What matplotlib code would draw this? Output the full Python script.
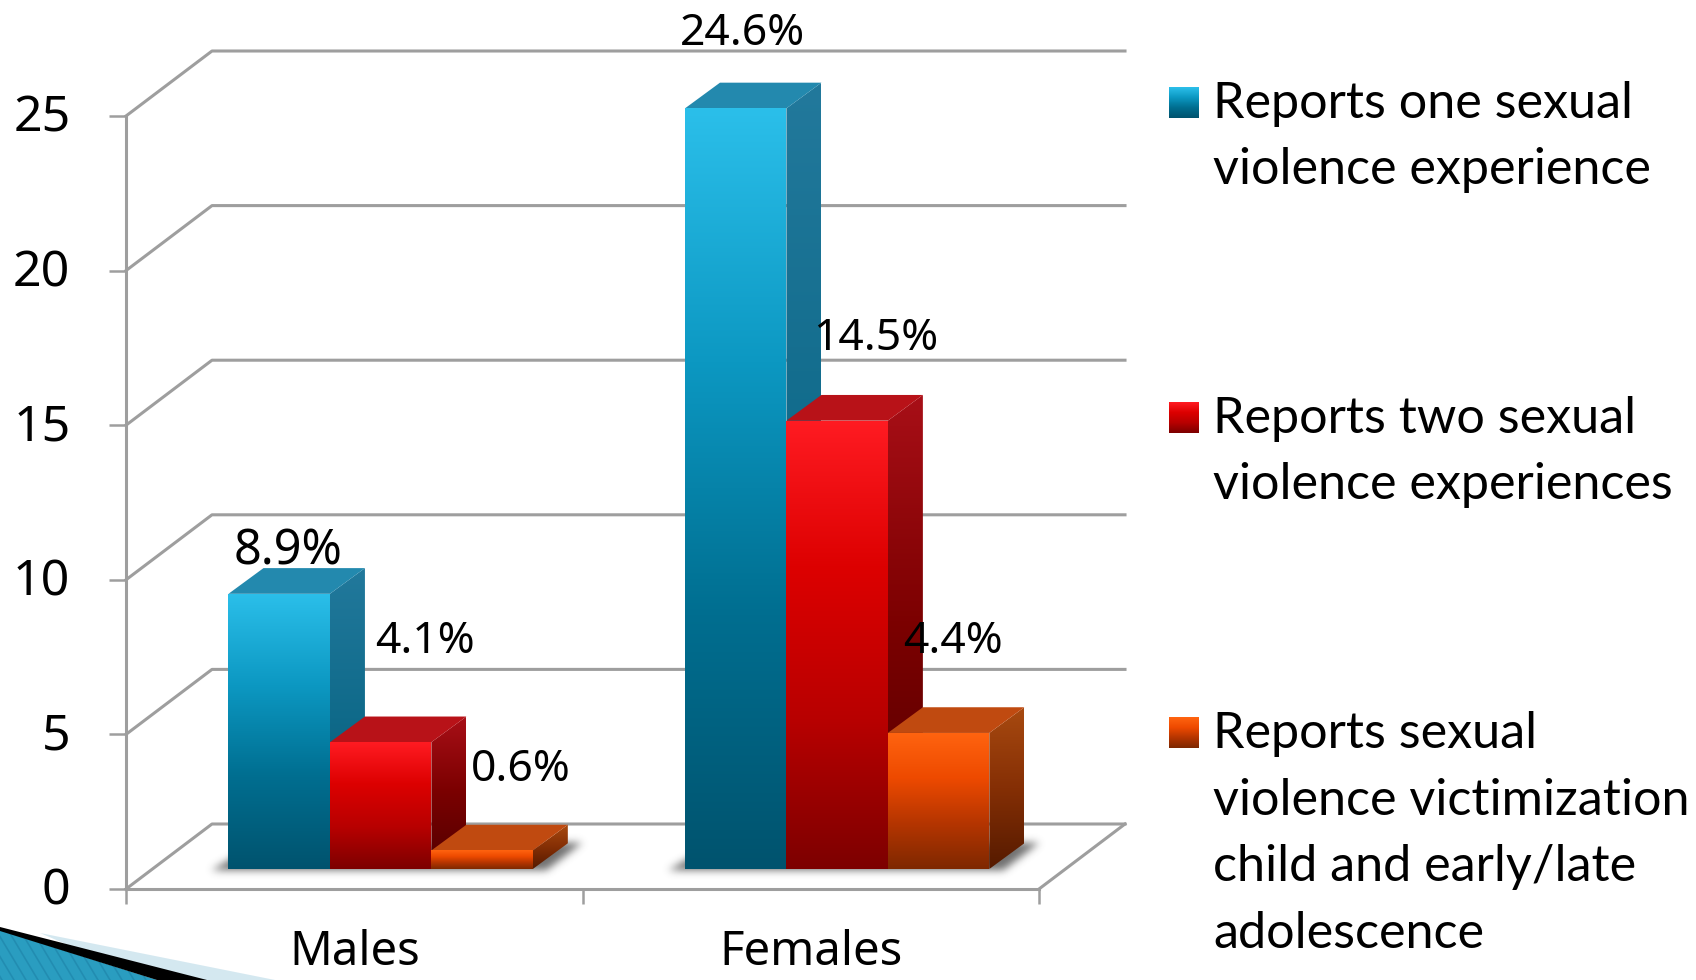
import numpy as np
import matplotlib
matplotlib.use("Agg")
import matplotlib.pyplot as plt
from matplotlib.colors import LinearSegmentedColormap
from matplotlib.patches import Polygon
from matplotlib.path import Path
from matplotlib.transforms import Affine2D

categories = ["Males", "Females"]
series_names = ["Reports one sexual\nviolence experience",
                "Reports two sexual\nviolence experiences",
                "Reports sexual\nviolence victimization\nchild and early/late\nadolescence"]
one_experience = [8.9, 24.6]
two_experiences = [4.1, 14.5]
victimization = [0.6, 4.4]
y_ticks = [0, 5, 10, 15, 20, 25]

W, H = 1696, 980
fig = plt.figure(figsize=(W / 100, H / 100), dpi=100, facecolor="white")
AX_L, AX_R, AX_T, AX_B = 126, 1039, 116, 889
ax = fig.add_axes([AX_L / W, 1 - AX_B / H, (AX_R - AX_L) / W, (AX_B - AX_T) / H])
ax.set_xlim(0, 2)
ax.set_ylim(0, 25)
ax.patch.set_alpha(0)
PXX = 2 / (AX_R - AX_L)
PXY = 25 / (AX_B - AX_T)

GRID = "#9E9E9E"
WALL_X, WALL_Y = 86 * PXX, 65 * PXY
DEPTH_X, DEPTH_Y = 35 * PXX, 25.7 * PXY
BASE = 20 * PXY
BAR_W = 1 / 4.5
BAR_START = 0.2245

for s in ["top", "right"]:
    ax.spines[s].set_visible(False)
for s in ["left", "bottom"]:
    ax.spines[s].set_color(GRID)
    ax.spines[s].set_linewidth(2.2)
ax.set_xticks([0, 1, 2])
ax.set_xticklabels(["", "", ""])
ax.set_xticks([0.5, 1.5], minor=True)
ax.set_xticklabels(categories, minor=True, fontsize=34, family="Noto Sans", color="black")
ax.tick_params(axis="x", which="major", length=11, width=1.8, color=GRID)
ax.tick_params(axis="x", which="minor", length=0, pad=29)
ax.set_yticks(y_ticks)
ax.set_yticklabels([str(v) for v in y_ticks], fontsize=36, family="Noto Sans", color="black")
ax.tick_params(axis="y", length=12, width=1.8, color=GRID, pad=28)
for lab in ax.get_yticklabels():
    lab.set_transform(lab.get_transform() + Affine2D().translate(0, 3.5))

for v in y_ticks:
    ax.plot([0, WALL_X, 2 + WALL_X], [v, v + WALL_Y, v + WALL_Y], color=GRID, lw=2.2,
            clip_on=False, zorder=1, solid_joinstyle="round")
ax.plot([2, 2 + WALL_X], [0, WALL_Y], color=GRID, lw=2.2, clip_on=False, zorder=1)

STYLES = [
    dict(front=["#2BBFEA", "#0C98C2", "#006E90", "#00536E"], side=["#22799C", "#0F6A8A", "#04506A"], top="#2389AE"),
    dict(front=["#FF1B22", "#DC0000", "#B80000", "#7D0000"], side=["#A80F17", "#7A0000", "#520000"], top="#B81218"),
    dict(front=["#FF6410", "#EE4A00", "#B53500", "#7E2800"], side=["#A84A10", "#852F05", "#551A00"], top="#C04A10"),
]
series = [one_experience, two_experiences, victimization]


def gradient(poly_pts, stops, zorder):
    xs = [p[0] for p in poly_pts]
    ys = [p[1] for p in poly_pts]
    cmap = LinearSegmentedColormap.from_list("g", stops)
    patch = Polygon(poly_pts, closed=True, transform=ax.transData, fc="none", ec="none")
    ax.add_patch(patch)
    patch.set_clip_on(False)
    im = ax.imshow(np.linspace(0, 1, 256).reshape(-1, 1), cmap=cmap, aspect="auto",
                   extent=(min(xs), max(xs), min(ys), max(ys)), origin="upper",
                   interpolation="bilinear", zorder=zorder)
    im.set_clip_box(fig.bbox)
    im.set_clip_path(patch)


def shadow(x0, x1):
    # soft floor shadow: a polygon rasterised in pixel steps and blurred
    pts = np.array([(x0 - 16 * PXX, BASE - 1 * PXY), (x0 + 12 * PXX, BASE + 16 * PXY),
                    (x1 + 50 * PXX, BASE + 27 * PXY), (x1 + 14 * PXX, BASE - 1 * PXY)])
    margin = 24
    xg = np.arange(pts[:, 0].min() - margin * PXX, pts[:, 0].max() + margin * PXX, PXX)
    yg = np.arange(pts[:, 1].max() + margin * PXY, pts[:, 1].min() - margin * PXY, -PXY)
    gx, gy = np.meshgrid(xg, yg)
    mask = Path(pts).contains_points(np.c_[gx.ravel(), gy.ravel()]).reshape(gx.shape).astype(float)
    kx = np.exp(-0.5 * (np.arange(-12, 13) / 4.0) ** 2)
    kx /= kx.sum()
    mask = np.apply_along_axis(lambda r: np.convolve(r, kx, mode="same"), 0, mask)
    mask = np.apply_along_axis(lambda r: np.convolve(r, kx, mode="same"), 1, mask)
    rgba = np.zeros(mask.shape + (4,))
    rgba[..., :3] = 0.30
    rgba[..., 3] = mask * 0.8
    im = ax.imshow(rgba, aspect="auto", extent=(xg[0], xg[-1], yg[-1], yg[0]), origin="upper",
                   interpolation="bilinear", zorder=2)
    im.set_clip_box(fig.bbox)


for i in range(len(categories)):
    x_left = i + BAR_START
    shadow(x_left, x_left + BAR_W * 3)
    for j, vals in enumerate(series):
        st = STYLES[j]
        x0 = x_left + j * BAR_W
        x1 = x0 + BAR_W
        b = BASE
        t = BASE + vals[i]
        z = 3 + i * 10 + j
        front = [(x0, b), (x1, b), (x1, t), (x0, t)]
        side = [(x1, b), (x1 + DEPTH_X, b + DEPTH_Y), (x1 + DEPTH_X, t + DEPTH_Y), (x1, t)]
        top = [(x0, t), (x0 + DEPTH_X, t + DEPTH_Y), (x1 + DEPTH_X, t + DEPTH_Y), (x1, t)]
        gradient(side, st["side"], z)
        ax.add_patch(Polygon(top, closed=True, fc=st["top"], ec="none", zorder=z, clip_on=False))
        gradient(front, st["front"], z + 0.5)

ax.set_xlim(0, 2)
ax.set_ylim(0, 25)

ov = fig.add_axes([0, 0, 1, 1], zorder=10)
ov.set_xlim(0, W)
ov.set_ylim(H, 0)
ov.axis("off")

# Data labels
label_pos = [[(288, 551), (742, 34)], [(425, 642), (876, 339)], [(521, 770), (953, 642)]]
label_size = [[35, 32], [32, 32], [32, 32]]
for j, vals in enumerate(series):
    for i, v in enumerate(vals):
        x, y = label_pos[j][i]
        ov.text(x, y, f"{v}%", fontsize=label_size[j][i], family="Noto Sans", ha="center", va="center", color="black")

# Legend
legend_y = [137, 452, 834]
swatch_y = [87, 402, 717]
for name, y, sy, st in zip(series_names, legend_y, swatch_y, STYLES):
    cmap = LinearSegmentedColormap.from_list("g", st["front"])
    ov.imshow(np.linspace(0, 1, 64).reshape(-1, 1), cmap=cmap, aspect="auto",
              extent=(1169, 1199, sy + 31, sy), origin="upper", zorder=2)
    ov.text(1213, y, name, fontsize=36.2, family="Lato", ha="left", va="center", color="black",
            linespacing=1.55)
ov.set_xlim(0, W)
ov.set_ylim(H, 0)

# Slide decoration, bottom-left corner
ov.add_patch(Polygon([(40, 933), (275, 980), (150, 980)], closed=True, fc="#D4E8F0", ec="none", zorder=1))
wedge = Polygon([(0, 930), (157, 980), (0, 980)], closed=True, fc="#2A9DC0", ec="none", zorder=1.5)
ov.add_patch(wedge)
for sx in range(-40, 170, 12):
    stripe, = ov.plot([sx, sx + 30], [930, 980], color="#1F86AB", lw=1.2, alpha=0.7, zorder=1.6)
    stripe.set_clip_path(wedge)
ov.add_patch(Polygon([(0, 927), (207, 980), (157, 980), (0, 931)], closed=True, fc="black", ec="none", zorder=2))
ov.set_xlim(0, W)
ov.set_ylim(H, 0)

fig.savefig("out.png", dpi=100, facecolor="white")
